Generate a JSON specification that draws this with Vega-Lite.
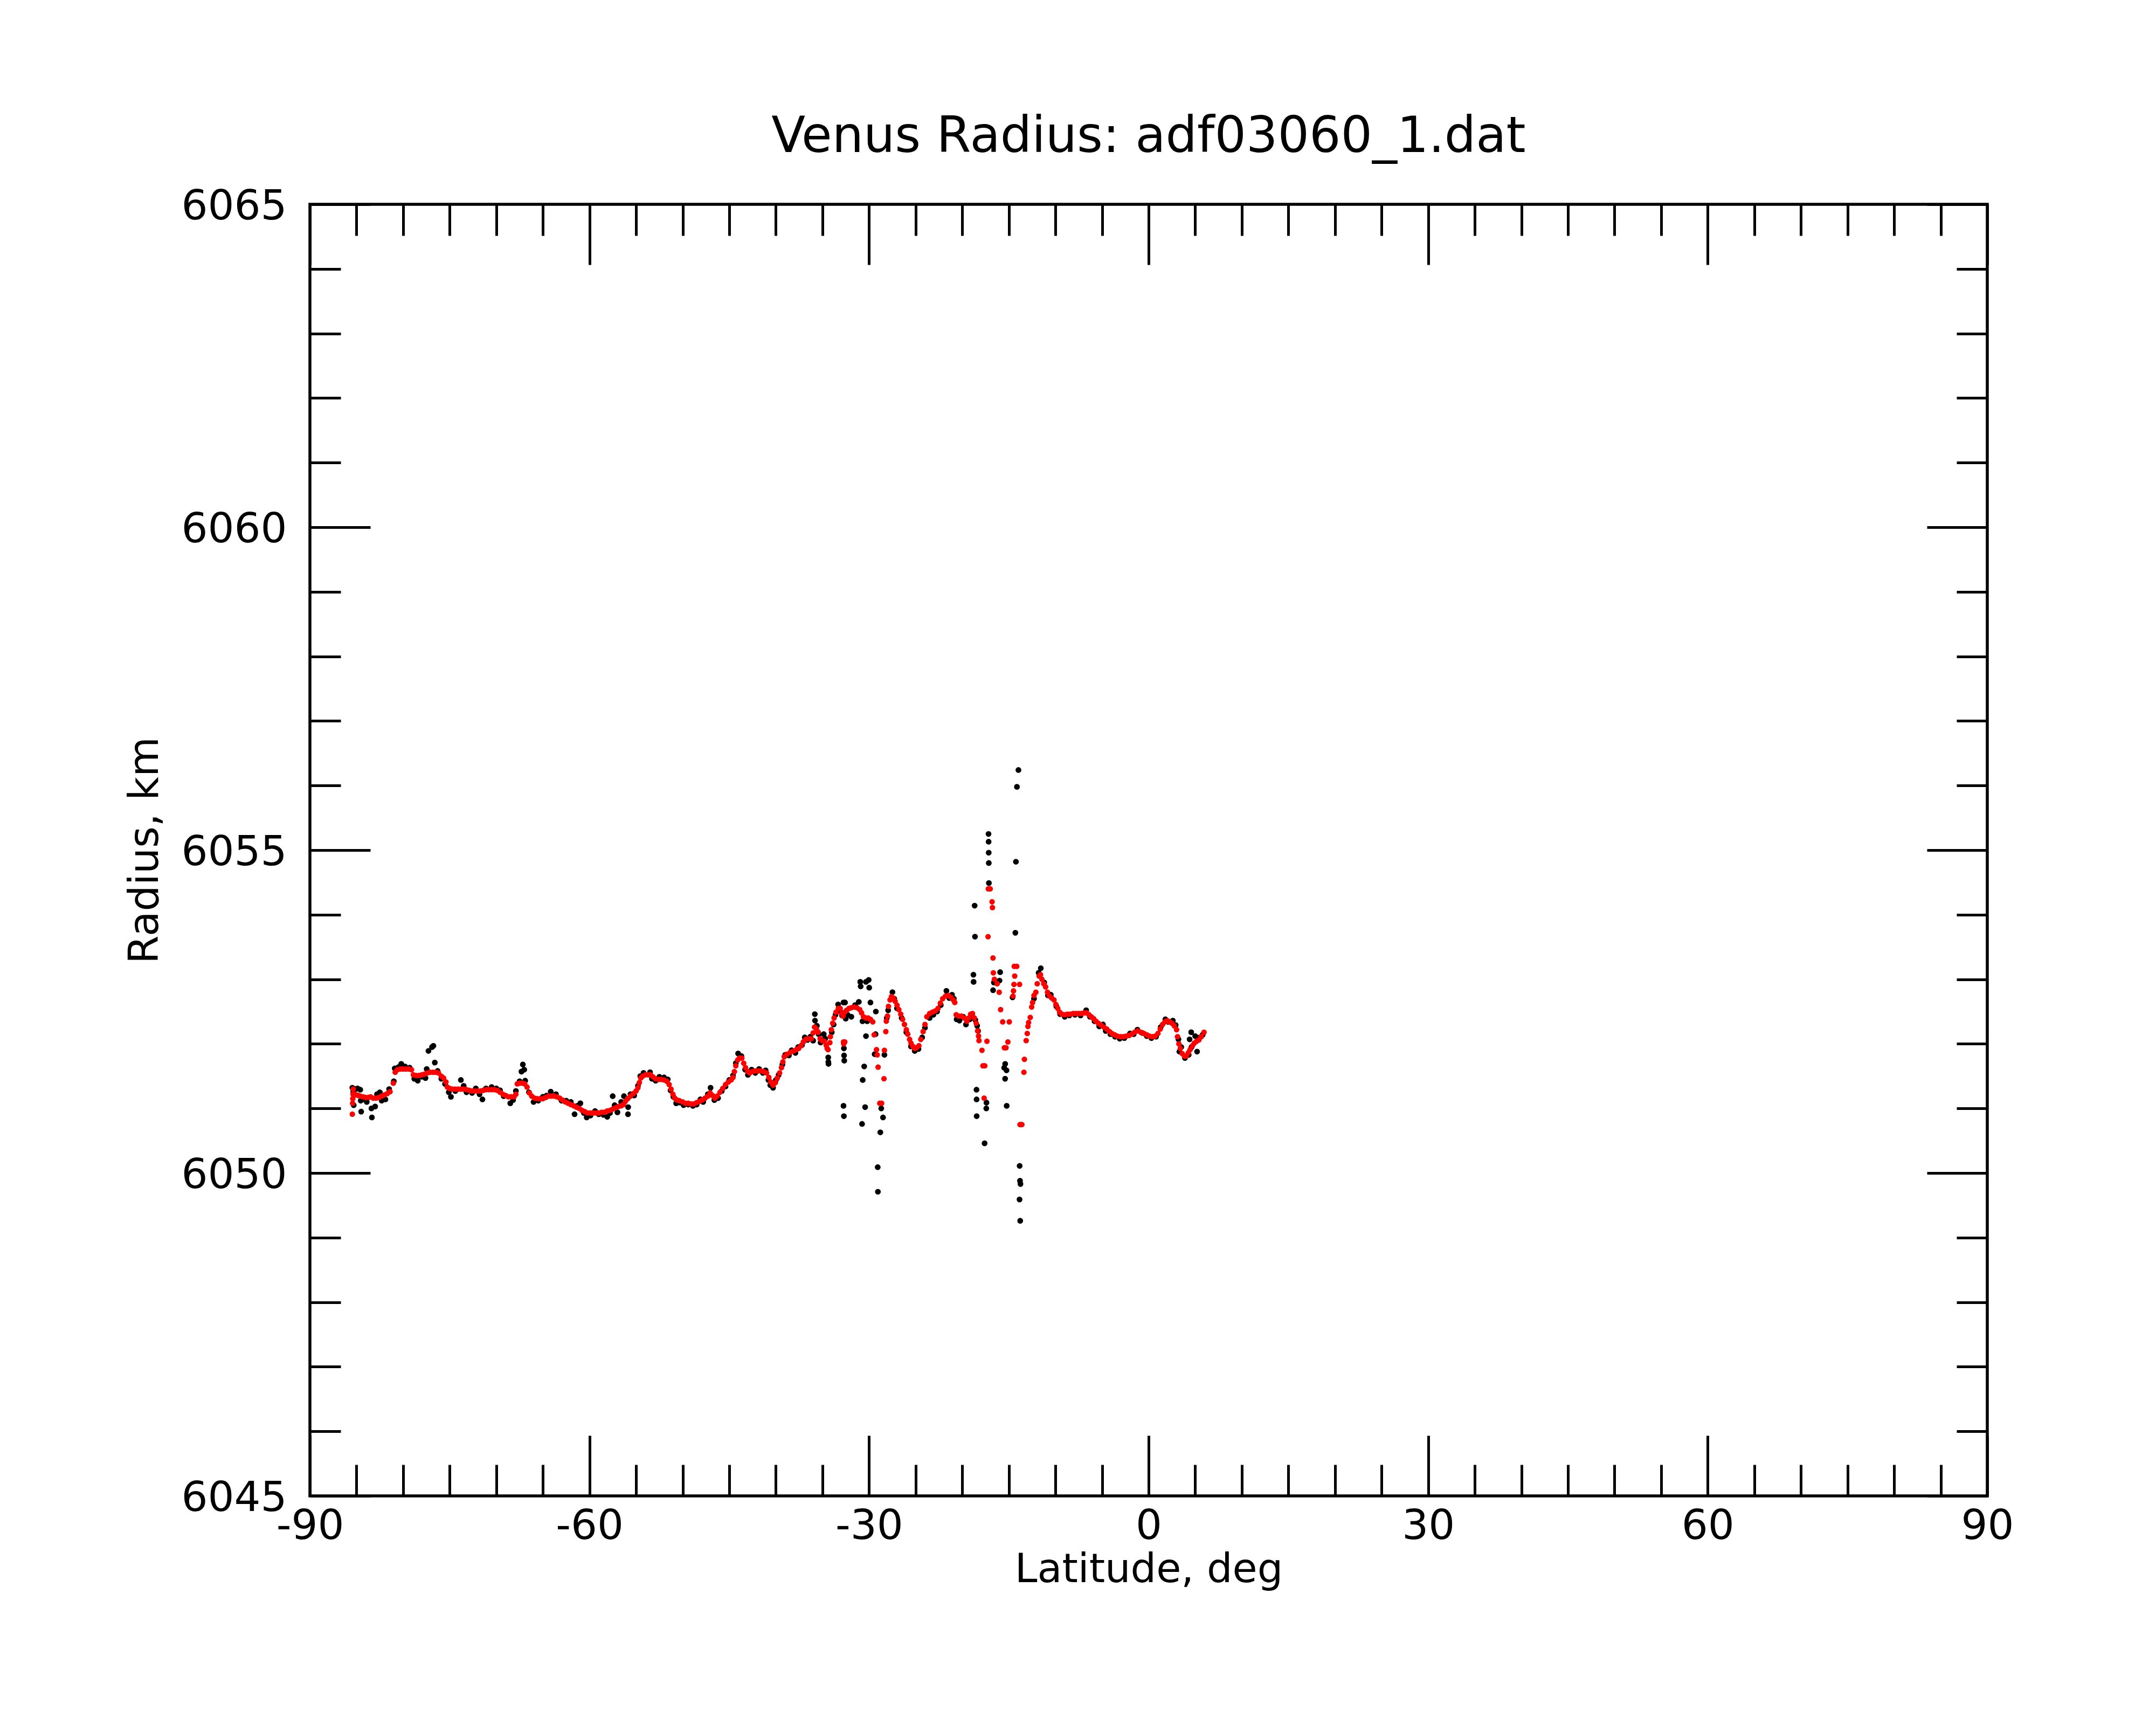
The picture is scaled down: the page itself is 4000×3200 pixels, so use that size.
{
  "$schema": "https://vega.github.io/schema/vega-lite/v6.json",
  "width": 3112,
  "height": 2396,
  "autosize": "none",
  "padding": {"left": 575, "top": 379, "right": 313, "bottom": 425},
  "background": "white",
  "config": {
    "font": "DejaVu Sans",
    "view": {"stroke": "black", "strokeWidth": 5.5},
    "axis": {"domain": false, "grid": false, "tickColor": "black", "tickWidth": 5, "labelColor": "black", "titleColor": "black", "labelFont": "DejaVu Sans", "titleFont": "DejaVu Sans", "titleFontWeight": "normal", "labelFlush": false, "labelOverlap": false, "labelLimit": 1000}
  },
  "title": {"text": "Venus Radius: adf03060_1.dat", "fontSize": 92, "font": "DejaVu Sans", "fontWeight": "normal", "color": "black", "anchor": "middle", "frame": "group", "baseline": "alphabetic", "offset": -30},
  "datasets": {
    "raw": [
      {"lat": -85.45, "r": 6051.32}, {"lat": -85.35, "r": 6051.26}, {"lat": -85.3, "r": 6051.05}, {"lat": -85.1, "r": 6051.3}, {"lat": -84.9, "r": 6051.31}, {"lat": -84.6, "r": 6051.29}, {"lat": -84.55, "r": 6051.12}, {"lat": -84.5, "r": 6050.95}, {"lat": -84.2, "r": 6051.14}, {"lat": -83.9, "r": 6051.1}, {"lat": -83.4, "r": 6051.0}, {"lat": -83.35, "r": 6050.86}, {"lat": -83.0, "r": 6051.03}, {"lat": -82.8, "r": 6051.22}, {"lat": -82.5, "r": 6051.25}, {"lat": -82.3, "r": 6051.12}, {"lat": -81.9, "r": 6051.14}, {"lat": -81.5, "r": 6051.3}, {"lat": -81.0, "r": 6051.42}, {"lat": -80.9, "r": 6051.62}, {"lat": -80.5, "r": 6051.64}, {"lat": -80.2, "r": 6051.69}, {"lat": -79.8, "r": 6051.65}, {"lat": -79.3, "r": 6051.63}, {"lat": -78.8, "r": 6051.46}, {"lat": -78.43, "r": 6051.43}, {"lat": -78.0, "r": 6051.49}, {"lat": -77.6, "r": 6051.47}, {"lat": -77.47, "r": 6051.61}, {"lat": -77.28, "r": 6051.89}, {"lat": -76.9, "r": 6051.95}, {"lat": -76.75, "r": 6051.97}, {"lat": -76.6, "r": 6051.71}, {"lat": -76.3, "r": 6051.58}, {"lat": -75.9, "r": 6051.46}, {"lat": -75.5, "r": 6051.38}, {"lat": -75.1, "r": 6051.25}, {"lat": -74.87, "r": 6051.18}, {"lat": -74.4, "r": 6051.27}, {"lat": -73.8, "r": 6051.44}, {"lat": -73.5, "r": 6051.35}, {"lat": -73.2, "r": 6051.25}, {"lat": -72.6, "r": 6051.24}, {"lat": -72.2, "r": 6051.31}, {"lat": -71.8, "r": 6051.22}, {"lat": -71.49, "r": 6051.14}, {"lat": -71.1, "r": 6051.31}, {"lat": -70.5, "r": 6051.33}, {"lat": -70.0, "r": 6051.31}, {"lat": -69.6, "r": 6051.28}, {"lat": -69.2, "r": 6051.19}, {"lat": -68.5, "r": 6051.08}, {"lat": -68.2, "r": 6051.13}, {"lat": -67.9, "r": 6051.27}, {"lat": -67.5, "r": 6051.42}, {"lat": -67.3, "r": 6051.57}, {"lat": -67.15, "r": 6051.68}, {"lat": -67.0, "r": 6051.6}, {"lat": -66.9, "r": 6051.43}, {"lat": -66.5, "r": 6051.25}, {"lat": -66.0, "r": 6051.1}, {"lat": -65.5, "r": 6051.12}, {"lat": -65.0, "r": 6051.18}, {"lat": -64.6, "r": 6051.2}, {"lat": -64.16, "r": 6051.26}, {"lat": -63.6, "r": 6051.22}, {"lat": -63.0, "r": 6051.12}, {"lat": -62.5, "r": 6051.12}, {"lat": -62.0, "r": 6051.1}, {"lat": -61.6, "r": 6050.91}, {"lat": -61.3, "r": 6051.04}, {"lat": -60.98, "r": 6051.08}, {"lat": -60.6, "r": 6050.93}, {"lat": -60.3, "r": 6050.86}, {"lat": -59.9, "r": 6050.89}, {"lat": -59.4, "r": 6050.96}, {"lat": -59.0, "r": 6050.91}, {"lat": -58.5, "r": 6050.9}, {"lat": -58.09, "r": 6050.87}, {"lat": -57.8, "r": 6050.93}, {"lat": -57.51, "r": 6051.19}, {"lat": -57.3, "r": 6051.05}, {"lat": -57.0, "r": 6050.94}, {"lat": -56.6, "r": 6051.1}, {"lat": -56.3, "r": 6051.19},
      {"lat": -55.87, "r": 6050.91}, {"lat": -55.85, "r": 6051.02}, {"lat": -55.6, "r": 6051.22}, {"lat": -55.2, "r": 6051.2}, {"lat": -54.8, "r": 6051.35}, {"lat": -54.55, "r": 6051.5}, {"lat": -54.2, "r": 6051.55}, {"lat": -53.5, "r": 6051.56}, {"lat": -53.3, "r": 6051.46}, {"lat": -52.9, "r": 6051.43}, {"lat": -52.5, "r": 6051.49}, {"lat": -52.0, "r": 6051.48}, {"lat": -51.6, "r": 6051.45}, {"lat": -51.3, "r": 6051.28}, {"lat": -51.0, "r": 6051.18}, {"lat": -50.7, "r": 6051.08}, {"lat": -50.3, "r": 6051.09}, {"lat": -49.9, "r": 6051.05}, {"lat": -49.4, "r": 6051.06}, {"lat": -48.9, "r": 6051.04}, {"lat": -48.5, "r": 6051.06}, {"lat": -48.1, "r": 6051.14}, {"lat": -47.8, "r": 6051.1}, {"lat": -47.3, "r": 6051.22}, {"lat": -47.01, "r": 6051.32}, {"lat": -46.6, "r": 6051.13}, {"lat": -46.2, "r": 6051.16}, {"lat": -45.8, "r": 6051.27}, {"lat": -45.4, "r": 6051.34}, {"lat": -45.0, "r": 6051.44}, {"lat": -44.6, "r": 6051.51}, {"lat": -44.3, "r": 6051.7}, {"lat": -44.05, "r": 6051.85}, {"lat": -43.7, "r": 6051.81}, {"lat": -43.3, "r": 6051.6}, {"lat": -43.0, "r": 6051.52}, {"lat": -42.6, "r": 6051.6}, {"lat": -42.2, "r": 6051.55}, {"lat": -41.8, "r": 6051.61}, {"lat": -41.4, "r": 6051.55}, {"lat": -41.1, "r": 6051.59}, {"lat": -40.8, "r": 6051.44}, {"lat": -40.6, "r": 6051.36}, {"lat": -40.3, "r": 6051.32}, {"lat": -40.0, "r": 6051.44}, {"lat": -39.7, "r": 6051.52}, {"lat": -39.3, "r": 6051.68}, {"lat": -39.0, "r": 6051.83}, {"lat": -38.6, "r": 6051.82}, {"lat": -38.3, "r": 6051.9}, {"lat": -37.9, "r": 6051.86}, {"lat": -37.6, "r": 6051.95}, {"lat": -37.2, "r": 6051.98}, {"lat": -36.9, "r": 6052.1}, {"lat": -36.6, "r": 6052.06}, {"lat": -36.3, "r": 6052.11}, {"lat": -36.0, "r": 6052.05}, {"lat": -35.82, "r": 6052.46}, {"lat": -35.8, "r": 6052.36}, {"lat": -35.6, "r": 6052.28}, {"lat": -35.4, "r": 6052.15}, {"lat": -35.2, "r": 6052.02}, {"lat": -34.86, "r": 6052.15}, {"lat": -34.7, "r": 6052.08}, {"lat": -34.38, "r": 6051.79}, {"lat": -34.37, "r": 6051.72}, {"lat": -34.35, "r": 6051.69}, {"lat": -34.0, "r": 6052.18}, {"lat": -33.8, "r": 6052.3}, {"lat": -33.6, "r": 6052.45}, {"lat": -33.32, "r": 6052.61}, {"lat": -33.1, "r": 6052.5}, {"lat": -32.9, "r": 6052.44}, {"lat": -32.74, "r": 6052.64}, {"lat": -32.58, "r": 6052.64}, {"lat": -32.7, "r": 6051.93}, {"lat": -32.68, "r": 6051.82}, {"lat": -32.66, "r": 6051.74}, {"lat": -32.74, "r": 6051.04}, {"lat": -32.7, "r": 6050.88}, {"lat": -32.5, "r": 6052.39}, {"lat": -32.3, "r": 6052.45}, {"lat": -31.9, "r": 6052.42}, {"lat": -31.5, "r": 6052.6}, {"lat": -31.1, "r": 6052.65}, {"lat": -30.94, "r": 6052.96}, {"lat": -30.9, "r": 6052.89}, {"lat": -30.33, "r": 6052.96}, {"lat": -30.04, "r": 6052.99}, {"lat": -29.98, "r": 6052.87}, {"lat": -29.85, "r": 6052.64}, {"lat": -30.33, "r": 6052.12}, {"lat": -30.52, "r": 6051.65}, {"lat": -30.68, "r": 6051.44}, {"lat": -30.42, "r": 6051.02}, {"lat": -30.75, "r": 6050.76}, {"lat": -30.7, "r": 6052.35}, {"lat": -30.2, "r": 6052.35}, {"lat": -29.27, "r": 6052.5}, {"lat": -29.3, "r": 6052.15}, {"lat": -29.4, "r": 6051.84}, {"lat": -28.69, "r": 6051.0}, {"lat": -28.5, "r": 6050.86}, {"lat": -28.79, "r": 6050.63}, {"lat": -29.07, "r": 6050.09}, {"lat": -29.05, "r": 6049.71}, {"lat": -28.35, "r": 6051.83}, {"lat": -28.1, "r": 6052.4}, {"lat": -27.95, "r": 6052.52}, {"lat": -27.49, "r": 6052.8}, {"lat": -27.3, "r": 6052.7}, {"lat": -27.0, "r": 6052.55}, {"lat": -26.5, "r": 6052.4}, {"lat": -26.0, "r": 6052.18}, {"lat": -25.5, "r": 6051.96}, {"lat": -25.1, "r": 6051.89}, {"lat": -24.7, "r": 6051.92}, {"lat": -24.3, "r": 6052.1}, {"lat": -24.0, "r": 6052.25}, {"lat": -23.5, "r": 6052.4}, {"lat": -23.1, "r": 6052.45}, {"lat": -22.7, "r": 6052.5}, {"lat": -22.3, "r": 6052.6}, {"lat": -21.7, "r": 6052.82}, {"lat": -21.4, "r": 6052.71}, {"lat": -21.1, "r": 6052.76}, {"lat": -20.9, "r": 6052.7}, {"lat": -20.6, "r": 6052.38}, {"lat": -20.3, "r": 6052.36}, {"lat": -19.9, "r": 6052.42}, {"lat": -19.6, "r": 6052.3}, {"lat": -19.2, "r": 6052.38}, {"lat": -18.9, "r": 6052.42}, {"lat": -18.6, "r": 6052.37}, {"lat": -18.4, "r": 6052.28}, {"lat": -18.3, "r": 6052.2}, {"lat": -18.8, "r": 6053.07}, {"lat": -18.78, "r": 6052.96}, {"lat": -18.67, "r": 6054.14}, {"lat": -18.63, "r": 6053.66}, {"lat": -18.47, "r": 6051.29}, {"lat": -18.46, "r": 6051.14}, {"lat": -18.45, "r": 6050.88}, {"lat": -17.4, "r": 6051.09}, {"lat": -17.42, "r": 6051.0}, {"lat": -17.6, "r": 6050.46}, {"lat": -17.18, "r": 6055.25}, {"lat": -17.17, "r": 6055.13}, {"lat": -17.16, "r": 6054.96}, {"lat": -17.15, "r": 6054.8}, {"lat": -17.14, "r": 6054.49}, {"lat": -16.69, "r": 6052.83}, {"lat": -16.6, "r": 6052.95}, {"lat": -16.0, "r": 6052.98}, {"lat": -15.93, "r": 6053.11}, {"lat": -15.39, "r": 6051.69}, {"lat": -15.5, "r": 6051.63}, {"lat": -15.25, "r": 6051.59}, {"lat": -15.4, "r": 6051.46}, {"lat": -15.23, "r": 6051.04}, {"lat": -14.24, "r": 6054.82}, {"lat": -14.3, "r": 6053.72}, {"lat": -14.6, "r": 6052.72}, {"lat": -13.97, "r": 6056.24}, {"lat": -14.13, "r": 6055.98}, {"lat": -13.84, "r": 6050.11}, {"lat": -13.8, "r": 6049.88}, {"lat": -13.75, "r": 6049.83}, {"lat": -13.85, "r": 6049.59}, {"lat": -13.78, "r": 6049.26}, {"lat": -11.57, "r": 6053.17}, {"lat": -11.8, "r": 6053.1}, {"lat": -12.3, "r": 6052.7}, {"lat": -11.2, "r": 6052.95}, {"lat": -10.8, "r": 6052.75}, {"lat": -10.5, "r": 6052.76}, {"lat": -9.9, "r": 6052.58}, {"lat": -9.5, "r": 6052.46}, {"lat": -9.0, "r": 6052.42}, {"lat": -8.5, "r": 6052.44}, {"lat": -7.9, "r": 6052.45}, {"lat": -7.3, "r": 6052.44}, {"lat": -6.7, "r": 6052.52}, {"lat": -6.3, "r": 6052.42}, {"lat": -5.8, "r": 6052.35}, {"lat": -5.3, "r": 6052.27}, {"lat": -4.9, "r": 6052.3}, {"lat": -4.6, "r": 6052.2}, {"lat": -4.1, "r": 6052.15}, {"lat": -3.6, "r": 6052.11}, {"lat": -3.1, "r": 6052.08}, {"lat": -2.6, "r": 6052.09}, {"lat": -2.0, "r": 6052.16}, {"lat": -1.6, "r": 6052.15}, {"lat": -1.2, "r": 6052.22}, {"lat": -0.7, "r": 6052.17}, {"lat": -0.2, "r": 6052.12}, {"lat": 0.3, "r": 6052.09}, {"lat": 0.8, "r": 6052.11}, {"lat": 1.3, "r": 6052.26}, {"lat": 1.8, "r": 6052.38}, {"lat": 2.1, "r": 6052.34}, {"lat": 2.6, "r": 6052.36}, {"lat": 2.9, "r": 6052.29}, {"lat": 3.2, "r": 6052.07}, {"lat": 3.3, "r": 6051.88}, {"lat": 3.5, "r": 6051.95}, {"lat": 3.9, "r": 6051.78}, {"lat": 4.3, "r": 6051.83}, {"lat": 4.4, "r": 6052.07}, {"lat": 4.6, "r": 6051.95}, {"lat": 4.57, "r": 6052.18}, {"lat": 5.0, "r": 6052.12}, {"lat": 5.2, "r": 6051.88}, {"lat": 5.5, "r": 6052.1}, {"lat": 5.8, "r": 6052.14}
    ],
    "fit": [
      {"lat": -85.45, "r": 6050.91}, {"lat": -85.42, "r": 6051.08}, {"lat": -85.4, "r": 6051.15}, {"lat": -85.38, "r": 6051.22}, {"lat": -85.35, "r": 6051.3}, {"lat": -85.2, "r": 6051.22}, {"lat": -85.0, "r": 6051.21}, {"lat": -84.8, "r": 6051.2}, {"lat": -84.6, "r": 6051.19}, {"lat": -84.3, "r": 6051.18}, {"lat": -84.0, "r": 6051.17}, {"lat": -83.7, "r": 6051.17}, {"lat": -83.5, "r": 6051.18}, {"lat": -83.2, "r": 6051.16}, {"lat": -82.9, "r": 6051.16}, {"lat": -82.6, "r": 6051.17}, {"lat": -82.3, "r": 6051.19}, {"lat": -82.0, "r": 6051.21}, {"lat": -81.7, "r": 6051.23}, {"lat": -81.4, "r": 6051.26}, {"lat": -81.05, "r": 6051.39}, {"lat": -80.85, "r": 6051.56}, {"lat": -80.6, "r": 6051.6}, {"lat": -80.3, "r": 6051.61}, {"lat": -80.0, "r": 6051.61}, {"lat": -79.7, "r": 6051.61}, {"lat": -79.4, "r": 6051.61}, {"lat": -79.1, "r": 6051.6}, {"lat": -78.9, "r": 6051.52}, {"lat": -78.6, "r": 6051.51}, {"lat": -78.3, "r": 6051.51}, {"lat": -78.0, "r": 6051.52}, {"lat": -77.7, "r": 6051.53}, {"lat": -77.4, "r": 6051.55}, {"lat": -77.1, "r": 6051.56}, {"lat": -76.8, "r": 6051.56}, {"lat": -76.5, "r": 6051.56}, {"lat": -76.2, "r": 6051.55}, {"lat": -75.9, "r": 6051.5}, {"lat": -75.65, "r": 6051.47}, {"lat": -75.4, "r": 6051.41}, {"lat": -75.25, "r": 6051.33}, {"lat": -75.0, "r": 6051.31}, {"lat": -74.7, "r": 6051.3}, {"lat": -74.4, "r": 6051.3}, {"lat": -74.1, "r": 6051.3}, {"lat": -73.8, "r": 6051.3}, {"lat": -73.5, "r": 6051.3}, {"lat": -73.2, "r": 6051.29}, {"lat": -72.9, "r": 6051.28}, {"lat": -72.6, "r": 6051.27}, {"lat": -72.3, "r": 6051.27}, {"lat": -72.0, "r": 6051.27}, {"lat": -71.7, "r": 6051.27}, {"lat": -71.4, "r": 6051.28}, {"lat": -71.1, "r": 6051.29}, {"lat": -70.8, "r": 6051.29}, {"lat": -70.5, "r": 6051.29}, {"lat": -70.2, "r": 6051.29}, {"lat": -69.9, "r": 6051.28}, {"lat": -69.6, "r": 6051.25}, {"lat": -69.3, "r": 6051.22}, {"lat": -69.0, "r": 6051.2}, {"lat": -68.7, "r": 6051.18}, {"lat": -68.4, "r": 6051.18}, {"lat": -68.1, "r": 6051.18}, {"lat": -67.9, "r": 6051.22}, {"lat": -67.75, "r": 6051.38}, {"lat": -67.5, "r": 6051.39}, {"lat": -67.2, "r": 6051.39}, {"lat": -66.95, "r": 6051.38}, {"lat": -66.7, "r": 6051.33}, {"lat": -66.45, "r": 6051.24}, {"lat": -66.2, "r": 6051.19}, {"lat": -65.9, "r": 6051.16}, {"lat": -65.6, "r": 6051.15}, {"lat": -65.3, "r": 6051.15}, {"lat": -65.0, "r": 6051.15}, {"lat": -64.7, "r": 6051.17}, {"lat": -64.4, "r": 6051.19}, {"lat": -64.1, "r": 6051.19}, {"lat": -63.8, "r": 6051.19}, {"lat": -63.5, "r": 6051.18}, {"lat": -63.2, "r": 6051.16}, {"lat": -62.9, "r": 6051.13}, {"lat": -62.6, "r": 6051.1}, {"lat": -62.3, "r": 6051.08}, {"lat": -62.0, "r": 6051.06}, {"lat": -61.7, "r": 6051.04}, {"lat": -61.4, "r": 6051.02}, {"lat": -61.1, "r": 6051.0}, {"lat": -60.8, "r": 6050.97}, {"lat": -60.5, "r": 6050.95}, {"lat": -60.2, "r": 6050.93}, {"lat": -59.9, "r": 6050.93}, {"lat": -59.6, "r": 6050.93}, {"lat": -59.3, "r": 6050.93}, {"lat": -59.0, "r": 6050.93}, {"lat": -58.7, "r": 6050.94}, {"lat": -58.4, "r": 6050.94}, {"lat": -58.1, "r": 6050.96}, {"lat": -57.8, "r": 6050.97}, {"lat": -57.5, "r": 6050.99}, {"lat": -57.2, "r": 6051.01}, {"lat": -56.9, "r": 6051.03}, {"lat": -56.6, "r": 6051.04}, {"lat": -56.35, "r": 6051.06}, {"lat": -56.15, "r": 6051.11}, {"lat": -55.9, "r": 6051.15}, {"lat": -55.6, "r": 6051.19}, {"lat": -55.3, "r": 6051.23}, {"lat": -55.0, "r": 6051.27}, {"lat": -54.8, "r": 6051.32}, {"lat": -54.65, "r": 6051.4}, {"lat": -54.5, "r": 6051.47}, {"lat": -54.3, "r": 6051.5}, {"lat": -54.0, "r": 6051.52}, {"lat": -53.7, "r": 6051.52}, {"lat": -53.45, "r": 6051.52}, {"lat": -53.2, "r": 6051.49}, {"lat": -52.9, "r": 6051.46}, {"lat": -52.6, "r": 6051.45}, {"lat": -52.3, "r": 6051.45}, {"lat": -52.0, "r": 6051.44}, {"lat": -51.7, "r": 6051.42}, {"lat": -51.45, "r": 6051.37}, {"lat": -51.25, "r": 6051.3}, {"lat": -51.05, "r": 6051.22}, {"lat": -50.85, "r": 6051.16}, {"lat": -50.6, "r": 6051.13}, {"lat": -50.35, "r": 6051.12}, {"lat": -50.0, "r": 6051.1}, {"lat": -49.7, "r": 6051.08}, {"lat": -49.4, "r": 6051.08}, {"lat": -49.1, "r": 6051.07}, {"lat": -48.8, "r": 6051.07}, {"lat": -48.5, "r": 6051.09}, {"lat": -48.2, "r": 6051.11}, {"lat": -47.9, "r": 6051.13}, {"lat": -47.6, "r": 6051.16}, {"lat": -47.3, "r": 6051.19}, {"lat": -47.05, "r": 6051.24}, {"lat": -46.8, "r": 6051.2}, {"lat": -46.55, "r": 6051.16}, {"lat": -46.3, "r": 6051.19}, {"lat": -46.0, "r": 6051.25}, {"lat": -45.7, "r": 6051.31}, {"lat": -45.4, "r": 6051.37}, {"lat": -45.1, "r": 6051.41}, {"lat": -44.8, "r": 6051.44}, {"lat": -44.6, "r": 6051.48}, {"lat": -44.45, "r": 6051.57}, {"lat": -44.3, "r": 6051.66}, {"lat": -44.1, "r": 6051.75}, {"lat": -43.9, "r": 6051.78}, {"lat": -43.65, "r": 6051.78}, {"lat": -43.45, "r": 6051.7}, {"lat": -43.25, "r": 6051.63}, {"lat": -43.0, "r": 6051.57}, {"lat": -42.8, "r": 6051.55}, {"lat": -42.5, "r": 6051.57}, {"lat": -42.2, "r": 6051.58}, {"lat": -41.9, "r": 6051.58}, {"lat": -41.6, "r": 6051.58}, {"lat": -41.3, "r": 6051.57}, {"lat": -41.0, "r": 6051.55}, {"lat": -40.75, "r": 6051.48}, {"lat": -40.55, "r": 6051.41}, {"lat": -40.3, "r": 6051.36}, {"lat": -40.05, "r": 6051.4}, {"lat": -39.85, "r": 6051.47}, {"lat": -39.6, "r": 6051.55}, {"lat": -39.4, "r": 6051.63}, {"lat": -39.25, "r": 6051.72}, {"lat": -39.1, "r": 6051.8}, {"lat": -38.8, "r": 6051.84}, {"lat": -38.45, "r": 6051.87}, {"lat": -38.1, "r": 6051.89}, {"lat": -37.8, "r": 6051.91}, {"lat": -37.55, "r": 6051.93}, {"lat": -37.3, "r": 6051.97}, {"lat": -37.05, "r": 6052.03}, {"lat": -36.8, "r": 6052.07}, {"lat": -36.5, "r": 6052.08}, {"lat": -36.2, "r": 6052.08}, {"lat": -36.0, "r": 6052.17}, {"lat": -35.85, "r": 6052.26}, {"lat": -35.65, "r": 6052.23}, {"lat": -35.45, "r": 6052.18}, {"lat": -35.25, "r": 6052.08}, {"lat": -35.05, "r": 6052.05}, {"lat": -34.8, "r": 6052.04}, {"lat": -34.6, "r": 6051.98}, {"lat": -34.5, "r": 6051.93}, {"lat": -34.4, "r": 6051.91}, {"lat": -34.2, "r": 6052.02}, {"lat": -34.15, "r": 6052.11}, {"lat": -34.05, "r": 6052.22}, {"lat": -33.9, "r": 6052.32}, {"lat": -33.75, "r": 6052.4}, {"lat": -33.55, "r": 6052.49}, {"lat": -33.3, "r": 6052.55}, {"lat": -33.1, "r": 6052.55}, {"lat": -32.95, "r": 6052.47}, {"lat": -32.8, "r": 6052.43}, {"lat": -32.6, "r": 6052.49}, {"lat": -32.4, "r": 6052.52}, {"lat": -32.15, "r": 6052.55}, {"lat": -31.9, "r": 6052.56}, {"lat": -31.6, "r": 6052.57}, {"lat": -31.3, "r": 6052.56}, {"lat": -31.0, "r": 6052.53}, {"lat": -30.8, "r": 6052.48}, {"lat": -30.6, "r": 6052.42}, {"lat": -30.35, "r": 6052.4}, {"lat": -30.1, "r": 6052.4}, {"lat": -29.85, "r": 6052.38}, {"lat": -29.6, "r": 6052.34},
      {"lat": -32.74, "r": 6052.03}, {"lat": -32.72, "r": 6052.0}, {"lat": -32.6, "r": 6052.03}, {"lat": -29.45, "r": 6052.14}, {"lat": -29.2, "r": 6051.91}, {"lat": -29.12, "r": 6051.83}, {"lat": -29.03, "r": 6051.64}, {"lat": -28.85, "r": 6051.08}, {"lat": -28.65, "r": 6051.08}, {"lat": -28.4, "r": 6051.46}, {"lat": -28.35, "r": 6051.9}, {"lat": -28.2, "r": 6052.19}, {"lat": -28.15, "r": 6052.35}, {"lat": -28.02, "r": 6052.43}, {"lat": -27.92, "r": 6052.58}, {"lat": -27.75, "r": 6052.68}, {"lat": -27.6, "r": 6052.73}, {"lat": -27.4, "r": 6052.71}, {"lat": -27.2, "r": 6052.66}, {"lat": -27.0, "r": 6052.6}, {"lat": -26.8, "r": 6052.53}, {"lat": -26.6, "r": 6052.46}, {"lat": -26.4, "r": 6052.38}, {"lat": -26.2, "r": 6052.3}, {"lat": -26.0, "r": 6052.22}, {"lat": -25.85, "r": 6052.15}, {"lat": -25.65, "r": 6052.07}, {"lat": -25.5, "r": 6052.01}, {"lat": -25.3, "r": 6051.96}, {"lat": -25.1, "r": 6051.93}, {"lat": -24.9, "r": 6051.94}, {"lat": -24.65, "r": 6051.97}, {"lat": -24.45, "r": 6052.07}, {"lat": -24.2, "r": 6052.19}, {"lat": -24.0, "r": 6052.3}, {"lat": -23.8, "r": 6052.42}, {"lat": -23.5, "r": 6052.47}, {"lat": -23.2, "r": 6052.49}, {"lat": -22.9, "r": 6052.51}, {"lat": -22.6, "r": 6052.55}, {"lat": -22.35, "r": 6052.63}, {"lat": -22.1, "r": 6052.7}, {"lat": -21.8, "r": 6052.74}, {"lat": -21.5, "r": 6052.75}, {"lat": -21.2, "r": 6052.72}, {"lat": -20.95, "r": 6052.68}, {"lat": -20.8, "r": 6052.64}, {"lat": -20.65, "r": 6052.45}, {"lat": -20.4, "r": 6052.43}, {"lat": -20.1, "r": 6052.43}, {"lat": -19.8, "r": 6052.4}, {"lat": -19.5, "r": 6052.35}, {"lat": -19.3, "r": 6052.4}, {"lat": -19.1, "r": 6052.46}, {"lat": -18.9, "r": 6052.47}, {"lat": -18.7, "r": 6052.4}, {"lat": -18.5, "r": 6052.32}, {"lat": -18.35, "r": 6052.2}, {"lat": -18.25, "r": 6052.12}, {"lat": -18.2, "r": 6052.05}, {"lat": -17.35, "r": 6052.04}, {"lat": -17.88, "r": 6051.9}, {"lat": -17.78, "r": 6051.66}, {"lat": -17.58, "r": 6051.66}, {"lat": -17.65, "r": 6051.16}, {"lat": -17.2, "r": 6054.4}, {"lat": -17.0, "r": 6054.4}, {"lat": -16.8, "r": 6054.2}, {"lat": -16.76, "r": 6054.11}, {"lat": -17.23, "r": 6053.66}, {"lat": -16.7, "r": 6053.33}, {"lat": -16.66, "r": 6053.1}, {"lat": -16.55, "r": 6053.0}, {"lat": -16.25, "r": 6052.93}, {"lat": -16.03, "r": 6052.8}, {"lat": -15.88, "r": 6052.53}, {"lat": -15.66, "r": 6052.34}, {"lat": -14.95, "r": 6052.34}, {"lat": -15.48, "r": 6051.94}, {"lat": -15.3, "r": 6051.94}, {"lat": -15.1, "r": 6052.03}, {"lat": -14.42, "r": 6053.2}, {"lat": -14.15, "r": 6053.2}, {"lat": -14.37, "r": 6053.05}, {"lat": -14.45, "r": 6052.92}, {"lat": -13.85, "r": 6052.92}, {"lat": -14.5, "r": 6052.82}, {"lat": -14.55, "r": 6052.74}, {"lat": -13.8, "r": 6050.75}, {"lat": -13.6, "r": 6050.75}, {"lat": -13.38, "r": 6051.56}, {"lat": -13.33, "r": 6051.76}, {"lat": -13.14, "r": 6052.05}, {"lat": -13.02, "r": 6052.16}, {"lat": -12.95, "r": 6052.27}, {"lat": -12.88, "r": 6052.33}, {"lat": -12.7, "r": 6052.41}, {"lat": -12.55, "r": 6052.57}, {"lat": -12.45, "r": 6052.64}, {"lat": -12.3, "r": 6052.75}, {"lat": -12.1, "r": 6052.8}, {"lat": -11.95, "r": 6052.93}, {"lat": -11.75, "r": 6053.05}, {"lat": -11.6, "r": 6053.07}, {"lat": -11.45, "r": 6053.0}, {"lat": -11.25, "r": 6052.93}, {"lat": -11.05, "r": 6052.88}, {"lat": -10.85, "r": 6052.8}, {"lat": -10.65, "r": 6052.74}, {"lat": -10.4, "r": 6052.71}, {"lat": -10.15, "r": 6052.68}, {"lat": -9.95, "r": 6052.61}, {"lat": -9.75, "r": 6052.55}, {"lat": -9.55, "r": 6052.49}, {"lat": -9.3, "r": 6052.46}, {"lat": -9.0, "r": 6052.45}, {"lat": -8.7, "r": 6052.46}, {"lat": -8.4, "r": 6052.46}, {"lat": -8.1, "r": 6052.47}, {"lat": -7.8, "r": 6052.47}, {"lat": -7.5, "r": 6052.47}, {"lat": -7.2, "r": 6052.47}, {"lat": -6.9, "r": 6052.48}, {"lat": -6.65, "r": 6052.48}, {"lat": -6.4, "r": 6052.45}, {"lat": -6.15, "r": 6052.42}, {"lat": -5.9, "r": 6052.39}, {"lat": -5.65, "r": 6052.35}, {"lat": -5.4, "r": 6052.32}, {"lat": -5.1, "r": 6052.29}, {"lat": -4.8, "r": 6052.26}, {"lat": -4.5, "r": 6052.23}, {"lat": -4.2, "r": 6052.19}, {"lat": -3.95, "r": 6052.16}, {"lat": -3.65, "r": 6052.14}, {"lat": -3.35, "r": 6052.12}, {"lat": -3.0, "r": 6052.11}, {"lat": -2.7, "r": 6052.11}, {"lat": -2.4, "r": 6052.12}, {"lat": -2.1, "r": 6052.13}, {"lat": -1.8, "r": 6052.15}, {"lat": -1.5, "r": 6052.18}, {"lat": -1.15, "r": 6052.2}, {"lat": -0.85, "r": 6052.18}, {"lat": -0.5, "r": 6052.16}, {"lat": -0.2, "r": 6052.14}, {"lat": 0.1, "r": 6052.12}, {"lat": 0.4, "r": 6052.11}, {"lat": 0.7, "r": 6052.12}, {"lat": 1.0, "r": 6052.16}, {"lat": 1.25, "r": 6052.23}, {"lat": 1.5, "r": 6052.3}, {"lat": 1.75, "r": 6052.34}, {"lat": 2.0, "r": 6052.36}, {"lat": 2.25, "r": 6052.34}, {"lat": 2.5, "r": 6052.32}, {"lat": 2.75, "r": 6052.28}, {"lat": 3.0, "r": 6052.22}, {"lat": 3.1, "r": 6052.11}, {"lat": 3.25, "r": 6052.0}, {"lat": 3.4, "r": 6051.93}, {"lat": 3.6, "r": 6051.85}, {"lat": 3.85, "r": 6051.81}, {"lat": 4.05, "r": 6051.81}, {"lat": 4.25, "r": 6051.86}, {"lat": 4.45, "r": 6051.91}, {"lat": 4.7, "r": 6051.97}, {"lat": 4.9, "r": 6052.01}, {"lat": 5.15, "r": 6052.04}, {"lat": 5.4, "r": 6052.06}, {"lat": 5.65, "r": 6052.11}, {"lat": 5.95, "r": 6052.18}
    ]
  },
  "layer": [
    {
      "data": {"name": "raw"},
      "transform": [{"filter": "datum.lat < -40"}],
      "mark": {"type": "circle", "color": "black", "opacity": 1, "size": 115},
      "encoding": {
        "x": {"field": "lat", "type": "quantitative", "scale": {"domain": [-90, 90], "nice": false, "zero": false},
          "axis": {"orient": "bottom", "values": [-90, -60, -30, 0, 30, 60, 90], "tickSize": -112, "labelFontSize": 77, "labelPadding": 130, "labelExpr": "'' + datum.value", "title": "Latitude, deg", "titleFontSize": 75, "titleBaseline": "alphabetic", "titleY": 159}},
        "y": {"field": "r", "type": "quantitative", "scale": {"domain": [6045, 6065], "nice": false, "zero": false},
          "axis": {"orient": "left", "values": [6045, 6050, 6055, 6060, 6065], "tickSize": -112, "labelFontSize": 77, "labelPadding": 155, "labelOffset": 4, "labelExpr": "'' + datum.value", "title": "Radius, km", "titleFontSize": 76, "titleBaseline": "alphabetic", "titleAngle": 270, "titleX": -283}}
      }
    },
    {
      "data": {"name": "raw"},
      "transform": [{"filter": "datum.lat >= -40"}],
      "mark": {"type": "circle", "color": "black", "opacity": 1, "size": 115},
      "encoding": {
        "x": {"field": "lat", "type": "quantitative",
          "axis": {"orient": "bottom", "values": [-85, -80, -75, -70, -65, -55, -50, -45, -40, -35, -25, -20, -15, -10, -5, 5, 10, 15, 20, 25, 35, 40, 45, 50, 55, 65, 70, 75, 80, 85], "tickSize": -58, "labels": false, "title": null}},
        "y": {"field": "r", "type": "quantitative",
          "axis": {"orient": "left", "values": [6046, 6047, 6048, 6049, 6051, 6052, 6053, 6054, 6056, 6057, 6058, 6059, 6061, 6062, 6063, 6064], "tickSize": -57, "labels": false, "title": null}}
      }
    },
    {
      "data": {"name": "fit"},
      "transform": [{"filter": "datum.lat < -40"}],
      "mark": {"type": "circle", "color": "#ff0000", "opacity": 1, "size": 105},
      "encoding": {
        "x": {"field": "lat", "type": "quantitative",
          "axis": {"orient": "top", "values": [-90, -60, -30, 0, 30, 60, 90], "tickSize": -112, "labels": false, "title": null}},
        "y": {"field": "r", "type": "quantitative",
          "axis": {"orient": "right", "values": [6045, 6050, 6055, 6060, 6065], "tickSize": -112, "labels": false, "title": null}}
      }
    },
    {
      "data": {"name": "fit"},
      "transform": [{"filter": "datum.lat >= -40"}],
      "mark": {"type": "circle", "color": "#ff0000", "opacity": 1, "size": 105},
      "encoding": {
        "x": {"field": "lat", "type": "quantitative",
          "axis": {"orient": "top", "values": [-85, -80, -75, -70, -65, -55, -50, -45, -40, -35, -25, -20, -15, -10, -5, 5, 10, 15, 20, 25, 35, 40, 45, 50, 55, 65, 70, 75, 80, 85], "tickSize": -58, "labels": false, "title": null}},
        "y": {"field": "r", "type": "quantitative",
          "axis": {"orient": "right", "values": [6046, 6047, 6048, 6049, 6051, 6052, 6053, 6054, 6056, 6057, 6058, 6059, 6061, 6062, 6063, 6064], "tickSize": -57, "labels": false, "title": null}}
      }
    }
  ],
  "resolve": {"axis": {"x": "independent", "y": "independent"}}
}
